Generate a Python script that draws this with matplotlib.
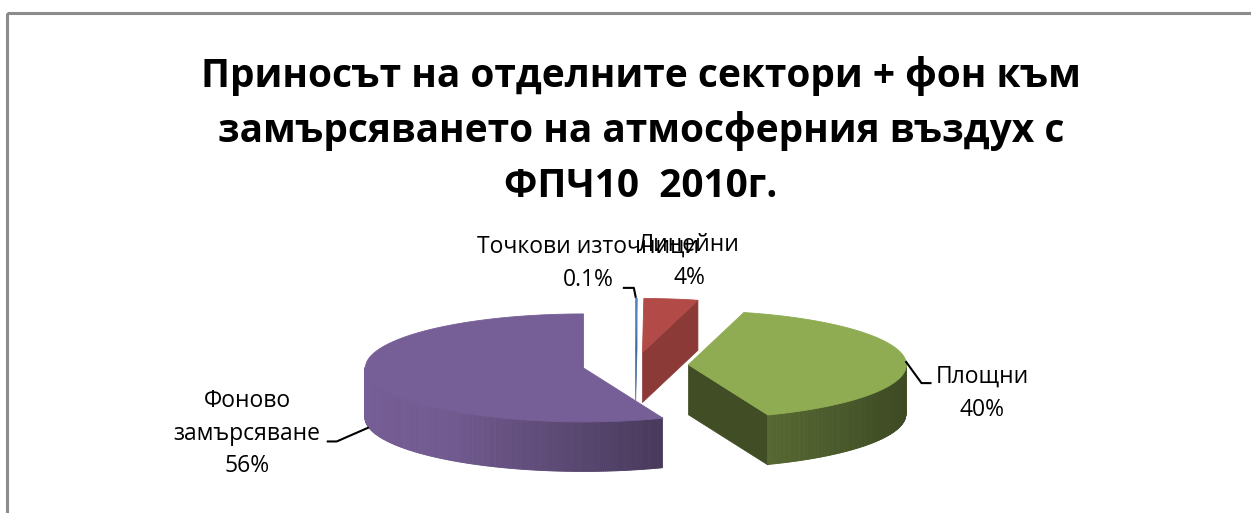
import numpy as np
import matplotlib.pyplot as plt
from matplotlib.collections import PolyCollection
from matplotlib.colors import to_rgb
from matplotlib.patches import Rectangle

# --- DATA ---
slice_names = [['Точкови източници'], ['Линейни'], ['Площни'], ['Фоново', 'замърсяване']]
values = [0.1, 4, 40, 56]
colors = ['#4f81bd', '#b24a48', '#8fac53', '#765e96']
title_lines = ['Приносът на отделните сектори + фон към',
               'замърсяването на атмосферния въздух с',
               'ФПЧ10  2010г.']

# --- LAYOUT (pixel coords, y down) ---
W, H = 1251, 513
CX, CY = 635, 365          # pie centre
RX, RY = 218, 54           # ellipse radii of top face
DEPTH = 50                 # thickness of the pie
EXPLODE = 0.243            # explode distance as fraction of radius
end_wall_shade = [0.8, 0.78, 0.45, 0.6]

label_pos = [(588, 247), (689, 245), (982, 377), (247, 401)]
LINE_H = 32.5
# leader lines: offsets from anchor point (None = no leader)
leaders = [[(-2, -10), (-13, -10)], None, [(16, 22), (26, 22)], [(-32, 14), (-42, 14)]]

FONT = ['Open Sans', 'DejaVu Sans']


def proj(theta, cx, cy, z=0.0):
    t = np.radians(theta)
    return cx + RX * np.sin(t), cy - RY * np.cos(t) + z


def shade(rgb, k):
    return tuple(np.clip(np.array(rgb) * k, 0, 1))


def wall_k(theta):
    s = np.sin(np.radians(theta))
    return np.interp(s, [-1, -0.6, 0.375, 1], [1.0, 0.95, 0.6, 0.43])


fig = plt.figure(figsize=(W / 100, H / 100), dpi=100)
ax = fig.add_axes([0, 0, 1, 1])
ax.set_xlim(0, W)
ax.set_ylim(H, 0)
ax.axis('off')

fr = np.array(values, dtype=float) / sum(values)
edges = np.concatenate([[0], np.cumsum(fr)]) * 360

anchors = []
for i, v in enumerate(values):
    a0, a1 = edges[i], edges[i + 1]
    mid = (a0 + a1) / 2
    sx = CX + EXPLODE * RX * np.sin(np.radians(mid))
    sy = CY - EXPLODE * RY * np.cos(np.radians(mid))
    base = to_rgb(colors[i])

    # radial (cut) walls that face the viewer
    walls = []
    if np.sin(np.radians(a1)) > 0:
        x1, y1 = proj(a1, sx, sy)
        walls.append([(sx, sy), (x1, y1), (x1, y1 + DEPTH), (sx, sy + DEPTH)])
    if np.sin(np.radians(a0)) < 0:
        x0, y0 = proj(a0, sx, sy)
        walls.append([(sx, sy), (x0, y0), (x0, y0 + DEPTH), (sx, sy + DEPTH)])
    if walls:
        c = shade(base, end_wall_shade[i])
        ax.add_collection(PolyCollection(walls, facecolors=[c], edgecolors=[c], linewidths=0.5))

    # outer curved wall (front half only), shaded strip by strip
    w0, w1 = max(a0, 90), min(a1, 270)
    if w1 > w0:
        th = np.linspace(w0, w1, int(w1 - w0) * 2 + 2)
        quads, cols = [], []
        for ta, tb in zip(th[:-1], th[1:]):
            xa, ya = proj(ta, sx, sy)
            xb, yb = proj(tb, sx, sy)
            quads.append([(xa, ya), (xb, yb), (xb, yb + DEPTH), (xa, ya + DEPTH)])
            cols.append(shade(base, wall_k((ta + tb) / 2)))
        ax.add_collection(PolyCollection(quads, facecolors=cols, edgecolors=cols, linewidths=0.6))

    # top face
    th = np.linspace(a0, a1, max(3, int(a1 - a0) * 2 + 2))
    xs, ys = proj(th, sx, sy)
    top = [(sx, sy)] + list(zip(xs, ys))
    ax.add_collection(PolyCollection([top], facecolors=[base], edgecolors=[base], linewidths=0.6))

    # anchor for leader line
    ax_, ay_ = proj(mid, sx, sy)
    if 90 < mid < 270 or i == 3:
        ay_ += DEPTH
    anchors.append((ax_, ay_))

# labels
for i, v in enumerate(values):
    lx, ly = label_pos[i]
    lines = slice_names[i] + [f'{v:g}%']
    for j, s in enumerate(lines):
        ax.text(lx, ly + j * LINE_H, s, ha='center', va='center', fontsize=16.5,
                family=FONT, color='#000000')
    if leaders[i] is not None:
        px, py = anchors[i]
        pts = [(px, py)] + [(px + dx, py + dy) for dx, dy in leaders[i]]
        ax.plot([p[0] for p in pts], [p[1] for p in pts], color='black', lw=1.5,
                solid_capstyle='butt')

# title
for j, s in enumerate(title_lines):
    ax.text(641, 87 + j * 55, s, ha='center', va='baseline', fontsize=28,
            fontweight='bold', family=FONT, color='black')

# chart frame
ax.add_patch(Rectangle((7, 13), 1400, 700, fill=False, ec='#8c8c8c', lw=2.2))

fig.savefig('out.png', dpi=100)
